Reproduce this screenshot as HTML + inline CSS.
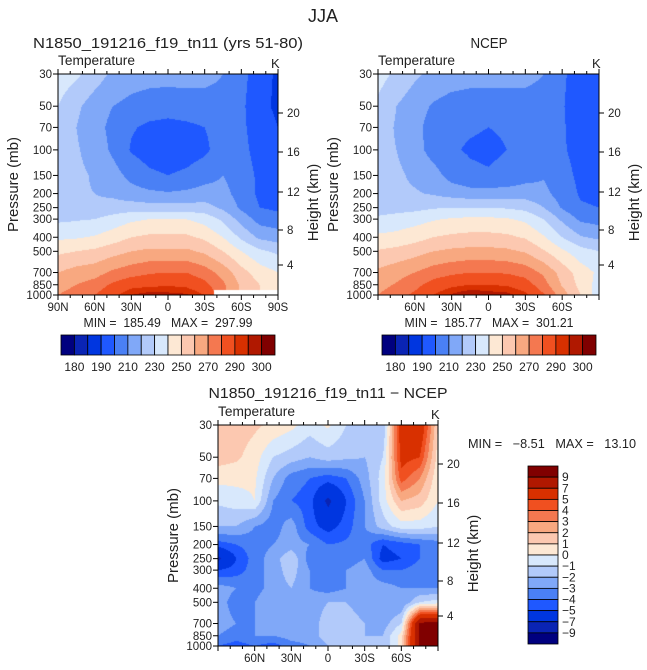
<!DOCTYPE html>
<html><head><meta charset="utf-8"><style>
html,body{margin:0;padding:0;background:#fff;}
#root{position:relative;width:647px;height:670px;overflow:hidden;font-family:"Liberation Sans",sans-serif;}
canvas{position:absolute;}
svg{position:absolute;left:0;top:0;}
text{font-family:"Liberation Sans",sans-serif;fill:#222;white-space:pre;}
</style></head><body>
<div id="root">
<canvas id="c1" width="220" height="221" style="left:58px;top:74px"></canvas>
<canvas id="c2" width="221" height="221" style="left:378px;top:74px"></canvas>
<canvas id="c3" width="220" height="221" style="left:218px;top:425px"></canvas>
<svg id="ov" width="647" height="670"></svg>
</div>
<script>
const lats=[90,75,60,45,30,15,0,-15,-30,-45,-60,-75,-90];
const levels=[30,50,70,100,150,200,250,300,400,500,700,850,1000];
const modelT=[
[236,232,225,218,215,214,214,214,213,210,203,195,188],
[230,222,215,210,207,205,204,205,206,207,202,193,188],
[227,220,214,207,201,198,197,198,200,204,202,195,190],
[226,221,216,208,199,195,194,195,198,205,203,196,193],
[224,222,219,214,207,202,200,202,206,210,205,198,195],
[222,221,220,218,214,212,211,212,214,213,206,198,196],
[222,222,222,224,225,224,224,224,224,218,208,200,198],
[228,229,230,234,238,240,240,240,236,228,216,206,204],
[238,239,241,245,250,252,252,252,248,240,228,218,215],
[248,250,252,256,260,262,262,262,258,250,240,232,228],
[260,264,266,272,276,279,280,280,275,266,254,245,240],
[265,270,274,282,287,288,289,288,283,272,258,250,245],
[270,275,280,288,295,298,297,296,290,null,null,null,null]];
const ncepT=[
[234,228,222,217,215,214,214,214,213,210,202,194,190],
[228,220,214,209,206,205,205,205,206,206,201,193,190],
[225,219,213,206,202,201,200,201,202,204,201,196,193],
[224,220,214,206,201,199,198,200,202,205,201,197,195],
[224,222,218,214,206,202,201,203,206,209,203,198,197],
[223,222,221,219,216,214,214,214,215,213,205,199,198],
[225,226,227,229,230,230,230,229,227,220,209,201,200],
[232,234,236,239,241,242,242,241,238,230,218,208,206],
[242,243,246,250,252,253,253,252,249,241,230,221,218],
[251,253,256,260,262,263,263,262,259,251,242,234,230],
[262,266,270,275,278,280,280,279,276,268,256,245,238],
[266,271,277,284,288,290,290,289,285,274,259,247,236],
[270,276,282,290,296,300,298,297,292,281,265,250,234]];
const diffT=[
[1.5,1.5,1.2,0.8,0.3,-0.5,0.2,-1,-1.5,-2,6,6.5,1],
[1.5,1.2,0.5,-1,-1.5,-2,-1.5,-1.8,-2,-1,5.5,5,0.5],
[0.3,0.3,0.2,-2,-3.5,-4,-4.5,-4,-2.5,-0.5,4.5,3,0.2],
[-0.8,-0.5,0,-3,-4,-4.5,-7.5,-5,-3,-0.5,2,1.5,0],
[-2,-2,-3,-3.5,-2.5,-4.5,-5.5,-4.5,-3,-1.5,-0.5,-0.5,-1],
[-4.5,-4,-3.5,-3,-2.5,-3,-4,-3.8,-3.5,-5,-4.5,-4,-3.5],
[-7.5,-5,-3.5,-2.5,-1.2,-3.5,-4,-3.5,-3,-5.5,-5,-4,-3.5],
[-5,-4.5,-3.5,-2.5,-1.5,-3,-3.5,-3,-2.5,-4,-4,-3.5,-3],
[-2.5,-3,-3.5,-2.5,-2,-3,-3.5,-3,-2.5,-2.5,-3,-3,-3],
[-2.5,-3.5,-3,-2,-2,-2.5,-2,-2,-2.5,-3,-3,-1,-0.5],
[-2.5,-3,-3,-2.5,-2,-2.5,-1.5,-1.5,-2,-2.5,-1,9.5,9.5],
[-3,-3.5,-3,-3,-2.5,-2.5,-1.5,-1.5,-2,-2,0.5,9.5,9.5],
[-4,-4.5,-4,-4.5,-3.5,-3,-2,-1.5,-2,-2,0.5,9.5,9.5]];
const tBounds=[180,185,190,200,210,220,230,240,250,260,270,280,290,295,300];
const tLabels=["180","190","210","230","250","270","290","300"];
const dBounds=[-9,-7,-5,-4,-3,-2,-1,0,1,2,3,4,5,7,9];
const dLabels=["-9","-7","-5","-4","-3","-2","-1","0","1","2","3","4","5","7","9"];
const presTicks=[30,50,70,100,150,200,250,300,400,500,700,850,1000];
const heightTicks=[20,16,12,8,4];
const heightOffsets=[39,78,118,156,191];
const colors=["#00007f","#0a24b4","#0036e0","#1f58ff","#4a80f5","#80a8f8","#b2cafa","#d8e8fc","#fde8d4","#fcc8b0","#f8a880","#f47850","#f05020","#d83000","#b01800","#800000"];

function yP(p,y0,h){return y0+h*Math.log(p/30)/Math.log(1000/30);}
function xL(lat,x0,w){return x0+w*(90-lat)/180;}
function colorFor(v,b){let i=0;while(i<b.length&&v>=b[i])i++;return colors[i];}
function drawField(id,grid,bounds){
  const cv=document.getElementById(id),ctx=cv.getContext('2d');
  const W=cv.width,H=cv.height,L=Math.log(1000/30);
  const lg=levels.map(p=>Math.log(p/30)/L);
  for(let py=0;py<H;py+=1){
    const f=(py+0.5)/H;let k=0;while(k<lg.length-2&&f>lg[k+1])k++;
    const t=Math.min(1,Math.max(0,(f-lg[k])/(lg[k+1]-lg[k])));
    for(let px=0;px<W;px+=1){
      const lf=(px+0.5)/W*(lats.length-1);let j=Math.min(lats.length-2,Math.floor(lf));const s=lf-j;
      const nk=t<0.5?k:k+1,nj=s<0.5?j:j+1;
      if(grid[nk][nj]===null){ctx.fillStyle='#fff';ctx.fillRect(px,py,1,1);continue;}
      const g=(a,b)=>{let v=grid[a][b];return v===null?grid[a-1][b]:v;};
      const v=(1-t)*((1-s)*g(k,j)+s*g(k,j+1))+t*((1-s)*g(k+1,j)+s*g(k+1,j+1));
      ctx.fillStyle=colorFor(v,bounds);ctx.fillRect(px,py,1,1);
    }
  }
}
drawField('c1',modelT,tBounds);drawField('c2',ncepT,tBounds);drawField('c3',diffT,dBounds);

const NS='http://www.w3.org/2000/svg',ov=document.getElementById('ov');
function el(tag,a,txt){const e=document.createElementNS(NS,tag);for(const k in a)e.setAttribute(k,a[k]);if(txt!==undefined)e.textContent=txt;ov.appendChild(e);return e;}
function txt(x,y,s,size,anchor,name,len){const a={x:x,y:y,'font-size':size,'text-anchor':anchor||'start'};
if(len){a.textLength=len;a.lengthAdjust='spacingAndGlyphs';}
const e=el('text',a,s);

return e;}
function panel(x0,y0,w,h,latLabels,name){
  const f=el('rect',{x:x0,y:y0,width:w,height:h,fill:'none',stroke:'#000','stroke-width':1});
  
  
  presTicks.forEach(p=>{const y=yP(p,y0,h);el('line',{x1:x0-5,y1:y,x2:x0,y2:y,stroke:'#000'});
    txt(x0-6,y+4,String(p),11.5,'end','pressure-tick-label');});
  heightTicks.forEach((v,i)=>{const y=y0+heightOffsets[i];el('line',{x1:x0+w,y1:y,x2:x0+w+5,y2:y,stroke:'#000'});txt(x0+w+9,y+4,String(v),11.5,'start','height-tick-label');});
  for(let lat=90;lat>=-90;lat-=10){const x=xL(lat,x0,w);const maj=lat%30===0;
    el('line',{x1:x,y1:y0+h,x2:x,y2:y0+h+(maj?5:3),stroke:'#000'});el('line',{x1:x,y1:y0,x2:x,y2:y0-(maj?5:3),stroke:'#000'});}
  latLabels.forEach(l=>{const lat=l==='0'?0:(l.endsWith('N')?+l.slice(0,-1):-l.slice(0,-1));txt(xL(lat,x0,w),y0+h+16,l,11.5,'middle','latitude-tick-label');});
  txt(x0,y0-9,'Temperature',13.5,'start','variable-label',77);
  txt(x0+w-7,y0-6,'K',13,'start','units-label');
  const yl=el('text',{x:0,y:0,'font-size':15,'text-anchor':'middle',transform:`translate(${x0-40},${y0+h/2}) rotate(-90)`},'Pressure (mb)');
  
  const hl=el('text',{x:0,y:0,'font-size':15,'text-anchor':'middle',transform:`translate(${x0+w+40},${y0+h/2+18}) rotate(-90)`},'Height (km)');
  
}
function hbar(x0,y0,w,h){const n=colors.length,bw=w/n;
  colors.forEach((c,i)=>{const r=el('rect',{x:x0+i*bw,y:y0,width:bw,height:h,fill:c,stroke:'#000','stroke-width':0.8});
    });
  tLabels.forEach((l,i)=>txt(x0+(2*i+1)*bw,y0+h+16,l,12,'middle','colorbar-label'));}
function vbar(x0,y0,w,h){const n=colors.length,bh=h/n;
  colors.slice().reverse().forEach((c,i)=>{const r=el('rect',{x:x0,y:y0+i*bh,width:w,height:bh,fill:c,stroke:'#000','stroke-width':0.8});
    });
  dLabels.slice().reverse().forEach((l,i)=>txt(x0+w+4,y0+(i+1)*bh+4,l.replace('-','\u2212'),12,'start','colorbar-label'));}

txt(323,22,'JJA',18,'middle','figure-title',30);
txt(168,48,'N1850_191216_f19_tn11 (yrs 51-80)',15,'middle','model-panel-title',270);
txt(489,48,'NCEP',15,'middle','ncep-panel-title',37);
txt(328,398,'N1850_191216_f19_tn11 \u2212 NCEP',15,'middle','difference-panel-title',239);
panel(58,74,220,221,['90N','60N','30N','0','30S','60S','90S'],'model-panel');
panel(378,74,221,221,['60N','30N','0','30S','60S'],'ncep-panel');
panel(218,425,220,221,['60N','30N','0','30S','60S'],'difference-panel');
txt(168,327,'MIN =  185.49   MAX =  297.99',12.5,'middle','model-min-max',169);
txt(489,327,'MIN =  185.77   MAX =  301.21',12.5,'middle','ncep-min-max',169);
txt(468,448,'MIN =   \u22128.51   MAX =   13.10',12.5,'start','difference-min-max',168);
hbar(61,335,214,20);hbar(382,335,214,20);vbar(528,466,30,178);
</script>
</body></html>
